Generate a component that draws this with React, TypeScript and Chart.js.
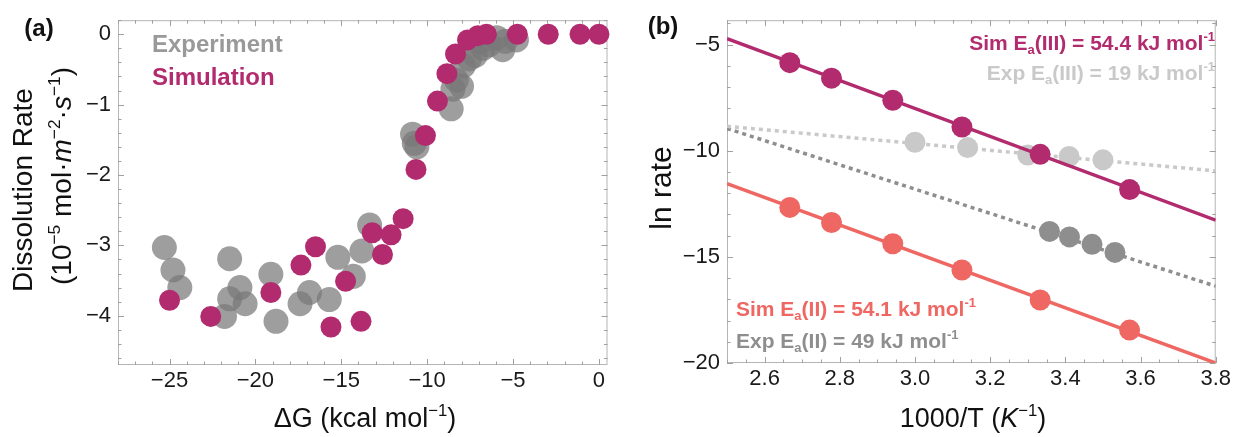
import React, { useEffect, useRef } from 'react';
import { Chart, registerables } from 'chart.js';
Chart.register(...registerables);

// ---------- Panel (a): dissolution rate vs ΔG ----------
const expDG = [-25.3, -24.8, -24.4, -21.5, -20.9, -21.5, -20.6, -21.8, -19.1, -18.8, -17.4, -16.85, -15.7, -15.2, -14.3, -13.8, -13.35,
  -10.85, -10.6, -10.75, -8.6, -8.5, -8.3, -8.0, -7.9, -7.55, -7.2, -6.75, -6.4, -5.6, -5.45, -4.8, -5.95, -6.9];
const expRate = [-3.03, -3.35, -3.6, -3.19, -3.6, -3.76, -3.83, -4.01, -3.41, -4.08, -3.83, -3.67, -3.77, -3.17, -3.44, -3.08, -2.71,
  -1.42, -1.6, -1.55, -1.06, -0.78, -0.65, -0.74, -0.45, -0.35, -0.3, -0.2, -0.15, -0.22, -0.1, -0.08, -0.05, -0.1];
const simDG = [-25.0, -22.6, -19.1, -17.35, -16.5, -15.6, -14.75, -13.85, -13.2, -12.6, -12.1, -11.4, -10.65, -10.1, -9.4, -8.85,
  -8.35, -7.65, -7.05, -6.55, -4.75, -2.95, -1.1, 0];
const simRate = [-3.78, -4.01, -3.67, -3.28, -3.02, -4.16, -3.51, -4.08, -2.82, -3.13, -2.85, -2.62, -1.92, -1.44, -0.95, -0.56,
  -0.28, -0.08, -0.02, 0, 0, 0, 0, 0];
const aXTicks = [-25, -20, -15, -10, -5, 0];
const aYTicks = [0, -1, -2, -3, -4];

// ---------- Panel (b): Arrhenius plot ----------
const simX = [2.667, 2.778, 2.941, 3.125, 3.333, 3.571];
const simIIIy = [-5.85, -6.58, -7.62, -8.88, -10.17, -11.83];
const simIIy = [-12.67, -13.38, -14.38, -15.62, -17.03, -18.45];
const expIIIx = [3.0, 3.14, 3.3, 3.41, 3.5];
const expIIIy = [-9.6, -9.85, -10.2, -10.27, -10.43];
const expIIx = [3.358, 3.411, 3.471, 3.532];
const expIIy = [-13.8, -14.06, -14.41, -14.79];
const fitX = [2.5, 3.8];
const fitSimIII = [-4.72, -13.27];
const fitSimII = [-11.55, -20.0];
const fitExpIII = [-8.85, -10.95];
const fitExpII = [-8.95, -16.38];
const bXTicks = [2.6, 2.8, 3.0, 3.2, 3.4, 3.6, 3.8];
const bYTicks = [-5, -10, -15, -20];

const MAGENTA = '#B22B6E';
const CORAL = '#EE6762';
const LIGHT = '#C9C9C9';
const DARK = '#8E8E8E';
const FAMILY = '"Liberation Sans", Arial, Helvetica, sans-serif';

type Seg = { t: string; sup?: boolean; sub?: boolean; it?: boolean };

function fnt(size: number, weight: string, italic?: boolean) {
  return `${italic ? 'italic ' : ''}${weight} ${size}px ${FAMILY}`;
}

function drawRich(ctx: CanvasRenderingContext2D, segs: Seg[], x: number, y: number, size: number, weight: string,
  color: string, align: 'left' | 'center' | 'right') {
  ctx.save();
  ctx.fillStyle = color;
  ctx.textBaseline = 'alphabetic';
  ctx.textAlign = 'left';
  const widths: number[] = [];
  let w = 0;
  for (const s of segs) {
    const sz = s.sup || s.sub ? size * 0.62 : size;
    ctx.font = fnt(sz, weight, s.it);
    const m = ctx.measureText(s.t).width;
    widths.push(m);
    w += m;
  }
  let cx = align === 'left' ? x : align === 'right' ? x - w : x - w / 2;
  const base = y + size * 0.36;
  segs.forEach((s, i) => {
    const sz = s.sup || s.sub ? size * 0.62 : size;
    ctx.font = fnt(sz, weight, s.it);
    const dy = s.sup ? -size * 0.4 : s.sub ? size * 0.2 : 0;
    ctx.fillText(s.t, cx, base + dy);
    cx += widths[i];
  });
  ctx.restore();
}

const fmtNum = (v: number, dec = 0) => (v < 0 ? '\u2212' : '') + Math.abs(v).toFixed(dec);

function framePlugin(xMajor: number[], xStep: number, yMajor: number[], yStep: number) {
  return {
    id: 'frame',
    beforeDatasetsDraw(chart: any) {
      const { ctx, chartArea: a, scales } = chart;
      const xs = scales.x, ys = scales.y;
      ctx.save();
      ctx.strokeStyle = '#b5b5b5';
      ctx.lineWidth = 1;
      ctx.strokeRect(a.left + 0.5, a.top + 0.5, a.right - a.left - 1, a.bottom - a.top - 1);
      ctx.strokeStyle = '#a0a0a0';
      const isMajor = (v: number, arr: number[]) => arr.some(m => Math.abs(m - v) < 1e-6);
      for (let v = xs.min; v <= xs.max + 1e-9; v += xStep) {
        const vv = Math.round(v / xStep) * xStep;
        if (vv < xs.min - 1e-9 || vv > xs.max + 1e-9) continue;
        const px = Math.round(xs.getPixelForValue(vv)) + 0.5;
        const len = isMajor(vv, xMajor) ? 6 : 3.5;
        ctx.beginPath();
        ctx.moveTo(px, a.bottom); ctx.lineTo(px, a.bottom - len);
        ctx.moveTo(px, a.top); ctx.lineTo(px, a.top + len);
        ctx.stroke();
      }
      for (let v = Math.ceil(ys.min / yStep) * yStep; v <= ys.max + 1e-9; v += yStep) {
        const vv = Math.round(v / yStep) * yStep;
        const py = Math.round(ys.getPixelForValue(vv)) + 0.5;
        const len = isMajor(vv, yMajor) ? 6 : 3.5;
        ctx.beginPath();
        ctx.moveTo(a.left, py); ctx.lineTo(a.left + len, py);
        ctx.moveTo(a.right, py); ctx.lineTo(a.right - len, py);
        ctx.stroke();
      }
      ctx.restore();
    },
  };
}

const tickFont = { family: FAMILY, size: 22 };

function cfgA(): any {
  return {
    type: 'scatter',
    data: {
      datasets: [
        {
          label: 'Simulation',
          data: simDG.map((x, i) => ({ x, y: simRate[i] })),
          backgroundColor: MAGENTA, borderWidth: 0, pointRadius: 10.5, clip: false, order: 1,
        },
        {
          label: 'Experiment',
          data: expDG.map((x, i) => ({ x, y: expRate[i] })),
          backgroundColor: 'rgba(120,120,120,0.72)', borderWidth: 0, pointRadius: 12.5, clip: false, order: 2,
        },
      ],
    },
    options: {
      animation: false, responsive: false, maintainAspectRatio: false, devicePixelRatio: 1,
      layout: { padding: { left: 0, right: 9, top: 8, bottom: 0 } },
      plugins: { legend: { display: false }, tooltip: { enabled: false } },
      scales: {
        x: {
          type: 'linear', min: -28, max: 0.5,
          afterBuildTicks: (s: any) => { s.ticks = aXTicks.map(v => ({ value: v })); },
          afterFit: (s: any) => { s.height = 72; },
          grid: { display: false, drawTicks: false }, border: { display: false },
          ticks: { padding: 3, font: tickFont, color: '#1a1a1a', autoSkip: false, maxRotation: 0, callback: (v: number) => fmtNum(v) },
        },
        y: {
          type: 'linear', min: -4.7, max: 0.2,
          afterBuildTicks: (s: any) => { s.ticks = aYTicks.map(v => ({ value: v })); },
          afterFit: (s: any) => { s.width = 118; },
          grid: { display: false, drawTicks: false }, border: { display: false },
          ticks: { padding: 7, font: tickFont, color: '#1a1a1a', autoSkip: false, callback: (v: number) => fmtNum(v) },
        },
      },
    },
    plugins: [
      framePlugin(aXTicks, 1, aYTicks, 0.2),
      {
        id: 'textA',
        afterDraw(chart: any) {
          const ctx = chart.ctx as CanvasRenderingContext2D;
          drawRich(ctx, [{ t: '(a)' }], 39, 27, 24, 'bold', '#111', 'center');
          drawRich(ctx, [{ t: 'Experiment' }], 152, 43, 24, 'bold', '#999999', 'left');
          drawRich(ctx, [{ t: 'Simulation' }], 152, 76, 24, 'bold', MAGENTA, 'left');
          drawRich(ctx, [{ t: '\u0394G (kcal mol' }, { t: '\u22121', sup: true }, { t: ')' }], 365, 417, 27, 'normal', '#111', 'center');
          ctx.save();
          ctx.translate(22, 190);
          ctx.rotate(-Math.PI / 2);
          drawRich(ctx, [{ t: 'Dissolution Rate' }], 0, 0, 28, 'normal', '#111', 'center');
          ctx.restore();
          ctx.save();
          ctx.translate(61, 176);
          ctx.rotate(-Math.PI / 2);
          drawRich(ctx, [
            { t: '(10' }, { t: '\u22125', sup: true }, { t: ' mol\u00b7' }, { t: 'm', it: true }, { t: '\u22122', sup: true },
            { t: '\u00b7' }, { t: 's', it: true }, { t: '\u22121', sup: true }, { t: ')' },
          ], 0, 0, 28, 'normal', '#111', 'center');
          ctx.restore();
        },
      },
    ],
  };
}

function cfgB(): any {
  const line = (ys: number[], color: string, width: number, dash: number[], order: number) => ({
    type: 'line',
    data: fitX.map((x, i) => ({ x, y: ys[i] })),
    borderColor: color, borderWidth: width, borderDash: dash, pointRadius: 0, showLine: true, fill: false, order,
    borderCapStyle: 'butt',
  });
  const pts = (xs: number[], ys: number[], color: string, order: number) => ({
    type: 'scatter',
    data: xs.map((x, i) => ({ x, y: ys[i] })),
    backgroundColor: color, borderWidth: 0, pointRadius: 10.5, clip: false, order,
  });
  return {
    type: 'scatter',
    data: {
      datasets: [
        pts(simX, simIIIy, MAGENTA, 1),
        pts(simX, simIIy, CORAL, 1),
        line(fitSimIII, MAGENTA, 3.5, [], 2),
        line(fitSimII, CORAL, 3.5, [], 2),
        pts(expIIIx, expIIIy, LIGHT, 3),
        pts(expIIx, expIIy, DARK, 3),
        line(fitExpIII, LIGHT, 3.5, [4, 4], 4),
        line(fitExpII, DARK, 3.5, [4, 4], 4),
      ],
    },
    options: {
      animation: false, responsive: false, maintainAspectRatio: false, devicePixelRatio: 1,
      layout: { padding: { left: 0, right: 17, top: 8, bottom: 0 } },
      plugins: { legend: { display: false }, tooltip: { enabled: false } },
      scales: {
        x: {
          type: 'linear', min: 2.5, max: 3.8,
          afterBuildTicks: (s: any) => { s.ticks = bXTicks.map(v => ({ value: v })); },
          afterFit: (s: any) => { s.height = 74; },
          grid: { display: false, drawTicks: false }, border: { display: false },
          ticks: { padding: 3, font: tickFont, color: '#1a1a1a', autoSkip: false, maxRotation: 0, callback: (v: number) => fmtNum(v, 1) },
        },
        y: {
          type: 'linear', min: -20, max: -3.85,
          afterBuildTicks: (s: any) => { s.ticks = bYTicks.map(v => ({ value: v })); },
          afterFit: (s: any) => { s.width = 107; },
          grid: { display: false, drawTicks: false }, border: { display: false },
          ticks: { padding: 7, font: tickFont, color: '#1a1a1a', autoSkip: false, callback: (v: number) => fmtNum(v) },
        },
      },
    },
    plugins: [
      framePlugin(bXTicks, 0.05, bYTicks, 1),
      {
        id: 'textB',
        afterDraw(chart: any) {
          const ctx = chart.ctx as CanvasRenderingContext2D;
          drawRich(ctx, [{ t: '(b)' }], 43, 25, 24, 'bold', '#111', 'center');
          drawRich(ctx, [{ t: '1000/T (' }, { t: 'K', it: true }, { t: '\u22121', sup: true }, { t: ')' }], 353, 417, 27, 'normal', '#111', 'center');
          ctx.save();
          ctx.translate(40, 188);
          ctx.rotate(-Math.PI / 2);
          drawRich(ctx, [{ t: 'ln rate' }], 0, 0, 30, 'normal', '#111', 'center');
          ctx.restore();
          drawRich(ctx, [{ t: 'Sim E' }, { t: 'a', sub: true }, { t: '(III) = 54.4 kJ mol' }, { t: '-1', sup: true }], 595, 42, 21, 'bold', MAGENTA, 'right');
          drawRich(ctx, [{ t: 'Exp E' }, { t: 'a', sub: true }, { t: '(III) = 19 kJ mol' }, { t: '-1', sup: true }], 595, 72, 21, 'bold', LIGHT, 'right');
          drawRich(ctx, [{ t: 'Sim E' }, { t: 'a', sub: true }, { t: '(II) = 54.1 kJ mol' }, { t: '-1', sup: true }], 116, 308, 21, 'bold', CORAL, 'left');
          drawRich(ctx, [{ t: 'Exp E' }, { t: 'a', sub: true }, { t: '(II) = 49 kJ mol' }, { t: '-1', sup: true }], 116, 340, 21, 'bold', DARK, 'left');
        },
      },
    ],
  };
}

export default function App() {
  const refA = useRef<HTMLCanvasElement>(null);
  const refB = useRef<HTMLCanvasElement>(null);
  useEffect(() => {
    const a = new Chart(refA.current as HTMLCanvasElement, cfgA());
    const b = new Chart(refB.current as HTMLCanvasElement, cfgB());
    return () => { a.destroy(); b.destroy(); };
  }, []);
  return (
    <div style={{ position: 'fixed', left: 0, top: 0, width: 1234, height: 437, background: '#fff' }}>
      <canvas ref={refA} width={620} height={437} style={{ position: 'absolute', left: 0, top: 0, width: 620, height: 437 }} />
      <canvas ref={refB} width={614} height={437} style={{ position: 'absolute', left: 620, top: 0, width: 614, height: 437 }} />
    </div>
  );
}
